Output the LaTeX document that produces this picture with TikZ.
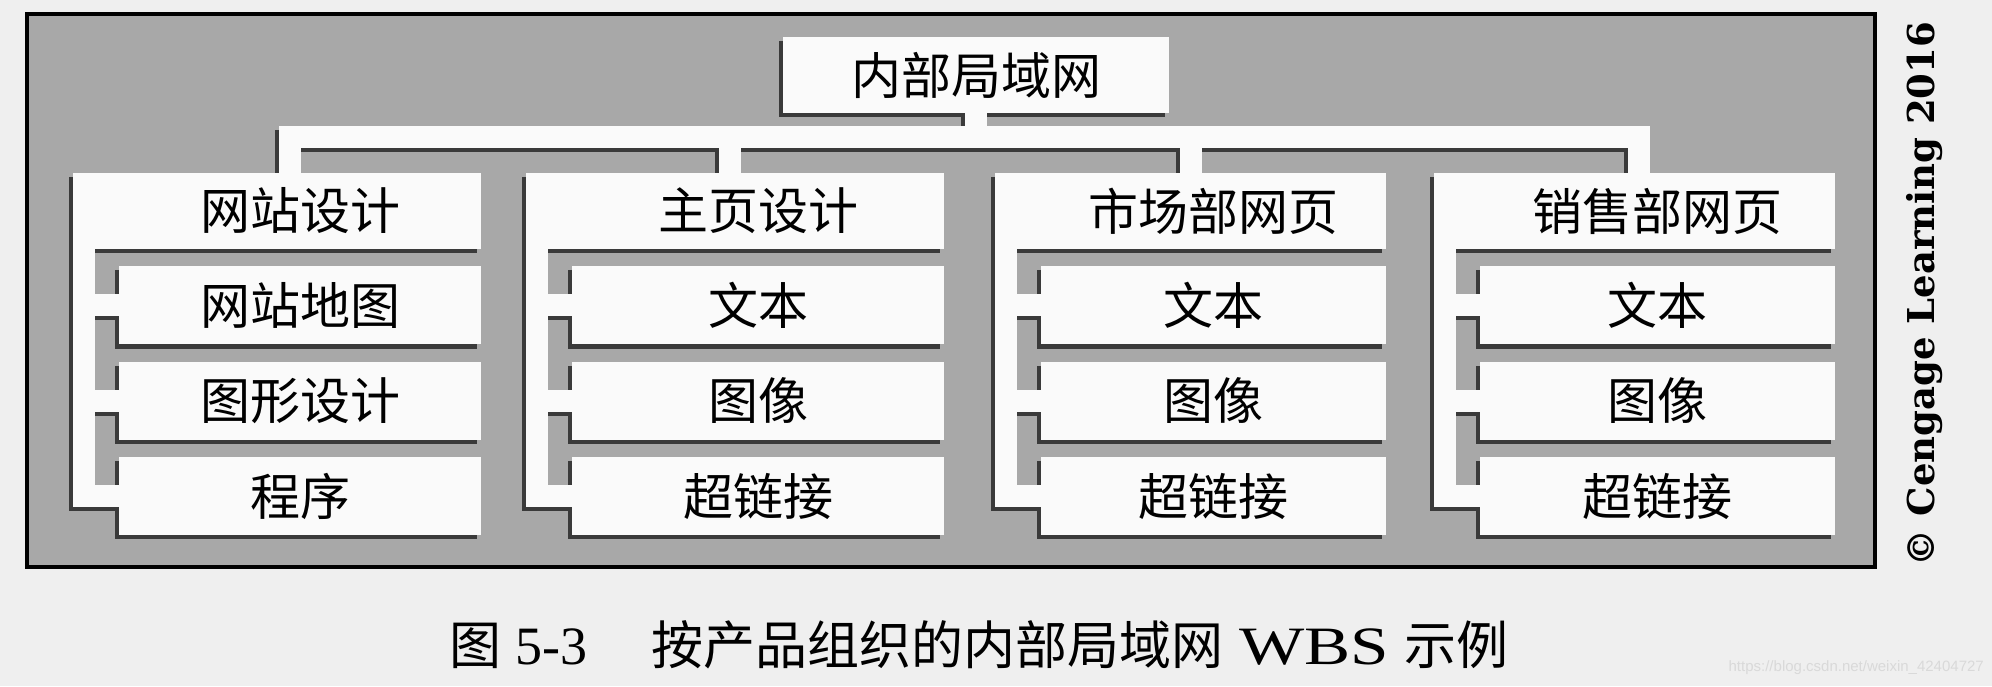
\documentclass[tikz,border=0pt]{standalone}
\usepackage{fontspec}
\usepackage{graphicx}
\setmainfont{Liberation Serif}
\newfontfamily\cjk{Noto Sans CJK SC}
\newfontfamily\crfont{DejaVu Serif}
\newfontfamily\wmfont{Liberation Sans}
\usepackage{tikz}
\usepackage{xcolor}
\usetikzlibrary{calc}

\pgfdeclarelayer{back}
\pgfdeclarelayer{shade}
\pgfsetlayers{back,shade,main}

\definecolor{paper}{HTML}{EFEFEF}
\definecolor{panel}{HTML}{A8A8A8}
\definecolor{shadowc}{HTML}{3A3A3A}
\definecolor{boxwhite}{HTML}{FAFAFA}

\newcommand{\wbslinks}[1]{%
  \draw[link,#1] ([xshift=13,yshift=-3]C1.north) |- (B) -| ([xshift=4,yshift=-3]C4.north)
    ([yshift=3]R.south) -- (B)
    ([xshift=-5,yshift=-3]C2.north) -- ([xshift=-5]C2.north |- B)
    ([yshift=-3]C3.north) -- (C3.north |- B);
  \foreach \i in {1,...,4}{
    \draw[link,#1] (\i S) |- ([xshift=3]\i L3.west)
      (\i S |- \i L1.west) -- ([xshift=3]\i L1.west)
      (\i S |- \i L2.west) -- ([xshift=3]\i L2.west);
  }%
}

\begin{document}
\begin{tikzpicture}[x=1pt,y=-1pt]
        \tikzstyle{box}=[fill=boxwhite, inner sep=0pt, minimum height=76, font=\cjk\fontsize{50}{54}\selectfont]
        \tikzstyle{top}=[box, execute at begin node={\hspace*{46pt}}]
        \tikzstyle{leaf}=[box, minimum height=78, anchor=north east]
        \tikzstyle{link}=[line width=22, line join=miter, draw=boxwhite]

        \useasboundingbox (0,0) rectangle (1992,686);

            \node[box, minimum width=386] (R) at (976,75) {内部局域网};

            \node[top, minimum width=408] (C1) at (277,211) {网站设计};
            \node[top, minimum width=418] (C2) at (735,211) {主页设计};
            \node[top, minimum width=391] (C3) at (1190.5,211) {市场部网页};
            \node[top, minimum width=401] (C4) at (1634.5,211) {销售部网页};

            \node[leaf, minimum width=362] (1L1) at ($(C1.south east)+(0,17)$) {网站地图};
            \node[leaf, minimum width=362] (1L2) at ($(1L1.south east)+(0,17)$) {图形设计};
            \node[leaf, minimum width=362] (1L3) at ($(1L2.south east)+(0,17)$) {程序};

            \node[leaf, minimum width=372] (2L1) at ($(C2.south east)+(0,17)$) {文本};
            \node[leaf, minimum width=372] (2L2) at ($(2L1.south east)+(0,17)$) {图像};
            \node[leaf, minimum width=372] (2L3) at ($(2L2.south east)+(0,17)$) {超链接};

            \node[leaf, minimum width=345] (3L1) at ($(C3.south east)+(0,17)$) {文本};
            \node[leaf, minimum width=345] (3L2) at ($(3L1.south east)+(0,17)$) {图像};
            \node[leaf, minimum width=345] (3L3) at ($(3L2.south east)+(0,17)$) {超链接};

            \node[leaf, minimum width=355] (4L1) at ($(C4.south east)+(0,17)$) {文本};
            \node[leaf, minimum width=355] (4L2) at ($(4L1.south east)+(0,17)$) {图像};
            \node[leaf, minimum width=355] (4L3) at ($(4L2.south east)+(0,17)$) {超链接};

            \coordinate (B) at ($(R.south)+(0,24)$);
            \foreach \i in {1,...,4}
                \coordinate (\i S) at ($(C\i.south west)+(11,-2)$);

            \wbslinks{}

            \begin{pgfonlayer}{shade}
                \wbslinks{draw=shadowc, transform canvas={shift={(-4,4)}}}
                \foreach \n in {R,C1,C2,C3,C4,1L1,1L2,1L3,2L1,2L2,2L3,3L1,3L2,3L3,4L1,4L2,4L3}
                    \fill[shadowc] ([shift={(-4,4)}]\n.north west) rectangle ([shift={(-4,4)}]\n.south east);
            \end{pgfonlayer}

            \begin{pgfonlayer}{back}
                \fill[paper] (0,0) rectangle (1992,686);
                \draw[line width=3.5, fill=panel] (27,14) rectangle (1875,567);
            \end{pgfonlayer}

            \node[anchor=west, inner sep=0pt, font=\fontsize{54}{60}\selectfont] (cap) at (449,645)
                {{\cjk\fontsize{52}{60}\selectfont 图}\hspace{14pt}5-3\hspace{64pt}{\cjk\fontsize{52}{60}\selectfont 按产品组织的内部局域网}\hspace{16pt}\scalebox{1.28}[1]{WBS}\hspace{16pt}{\cjk\fontsize{52}{60}\selectfont 示例}};

            \node[rotate=90, inner sep=0pt, font=\crfont\bfseries\fontsize{37}{42}\selectfont] (copy) at (1925,294) {© Cengage Learning 2016};

            \node[anchor=east, inner sep=0pt, text=gray!30, font=\wmfont\fontsize{15}{16}\selectfont] (wm) at (1984,668) {https://blog.csdn.net/weixin\_42404727};

        \end{tikzpicture}
\end{document}
